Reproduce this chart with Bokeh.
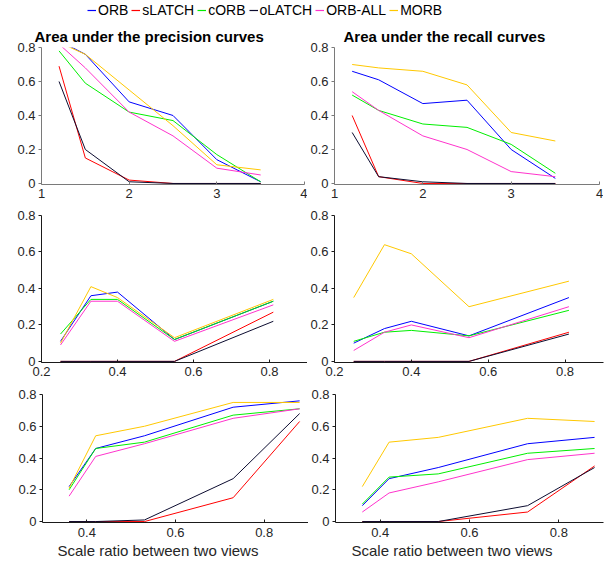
from bokeh.plotting import figure
from bokeh.models import Range1d, FixedTicker, Title, Legend, LegendItem
from bokeh.layouts import column, row
from bokeh.embed import file_html
from bokeh.resources import INLINE

# ---------------- data ----------------
series = ["ORB", "sLATCH", "cORB", "oLATCH", "ORB-ALL", "MORB"]
colors = ["#0000ff", "#ff0000", "#00ee00", "#0c0c30", "#ff33cc", "#ffc800"]

y_ticks = [0, 0.2, 0.4, 0.6, 0.8]
y_tick_labels = ["0", "0.2", "0.4", "0.6", "0.8"]

x_ticks_top = [1, 2, 3, 4]
x_tick_labels_top = ["1", "2", "3", "4"]
x_ticks_mid = [0.2, 0.4, 0.6, 0.8]
x_tick_labels_mid = ["0.2", "0.4", "0.6", "0.8"]
x_ticks_bot = [0.4, 0.6, 0.8]
x_tick_labels_bot = ["0.4", "0.6", "0.8"]

titles = ["Area under the precision curves", "Area under the recall curves"]
x_label = "Scale ratio between two views"

# row 1 (x = scale factor)
x_top = [1.2, 1.5, 2.0, 2.5, 3.0, 3.5]
prec_top_orb = [0.84, 0.76, 0.48, 0.40, 0.14, 0.01]
prec_top_slatch = [0.69, 0.15, 0.02, 0.0, 0.0, 0.0]
prec_top_corb = [0.78, 0.59, 0.42, 0.37, 0.17, 0.01]
prec_top_olatch = [0.60, 0.20, 0.01, 0.0, 0.0, 0.0]
prec_top_orball = [0.82, 0.68, 0.42, 0.28, 0.09, 0.05]
prec_top_morb = [0.83, 0.76, 0.55, 0.34, 0.11, 0.08]

rec_top_orb = [0.66, 0.61, 0.47, 0.49, 0.20, 0.03]
rec_top_slatch = [0.40, 0.04, 0.0, 0.0, 0.0, 0.0]
rec_top_corb = [0.52, 0.43, 0.35, 0.33, 0.23, 0.06]
rec_top_olatch = [0.30, 0.04, 0.01, 0.0, 0.0, 0.0]
rec_top_orball = [0.54, 0.43, 0.28, 0.20, 0.07, 0.04]
rec_top_morb = [0.70, 0.68, 0.66, 0.58, 0.30, 0.25]

# row 2
x_mid = [0.25, 0.33, 0.40, 0.55, 0.81]
prec_mid_orb = [0.11, 0.36, 0.38, 0.12, 0.33]
prec_mid_slatch = [0.0, 0.0, 0.0, 0.0, 0.27]
prec_mid_corb = [0.15, 0.34, 0.34, 0.12, 0.33]
prec_mid_olatch = [0.0, 0.0, 0.0, 0.0, 0.22]
prec_mid_orball = [0.09, 0.33, 0.33, 0.11, 0.31]
prec_mid_morb = [0.10, 0.41, 0.35, 0.13, 0.34]

rec_mid_orb = [0.10, 0.18, 0.22, 0.14, 0.35]
rec_mid_slatch = [0.0, 0.0, 0.0, 0.0, 0.16]
rec_mid_corb = [0.11, 0.16, 0.17, 0.14, 0.28]
rec_mid_olatch = [0.0, 0.0, 0.0, 0.0, 0.15]
rec_mid_orball = [0.06, 0.16, 0.20, 0.13, 0.30]
rec_mid_morb = [0.35, 0.64, 0.59, 0.30, 0.44]

# row 3
x_bot = [0.36, 0.42, 0.53, 0.73, 0.88]
prec_bot_orb = [0.22, 0.46, 0.54, 0.72, 0.76]
prec_bot_slatch = [0.0, 0.0, 0.0, 0.15, 0.63]
prec_bot_corb = [0.20, 0.46, 0.50, 0.67, 0.71]
prec_bot_olatch = [0.0, 0.0, 0.01, 0.27, 0.68]
prec_bot_orball = [0.16, 0.41, 0.49, 0.65, 0.71]
prec_bot_morb = [0.21, 0.54, 0.60, 0.75, 0.75]

rec_bot_orb = [0.10, 0.27, 0.34, 0.49, 0.53]
rec_bot_slatch = [0.0, 0.0, 0.0, 0.06, 0.35]
rec_bot_corb = [0.11, 0.28, 0.30, 0.43, 0.46]
rec_bot_olatch = [0.0, 0.0, 0.0, 0.10, 0.34]
rec_bot_orball = [0.06, 0.18, 0.25, 0.39, 0.43]
rec_bot_morb = [0.22, 0.50, 0.53, 0.65, 0.63]

# ---------------- styling helpers ----------------
FONT = "Liberation Sans"
LABEL_COLOR = "#262626"


def make_panel(xs, ys_list, x_range, x_ticks, x_tick_labels, fw, fh, bl, br, bt, bb,
               axis_color, title=None, title_offset=0, xlabel=None, xlabel_offset=0,
               x_standoff=4):
    p = figure(frame_width=fw, frame_height=fh,
               x_range=Range1d(*x_range), y_range=Range1d(-0.006, 0.8),
               output_backend="svg", toolbar_location=None,
               min_border_left=bl, min_border_right=br,
               min_border_top=bt, min_border_bottom=bb,
               title_location=None)
    p.outline_line_color = None
    p.xgrid.visible = False
    p.ygrid.visible = False
    p.background_fill_color = "white"
    p.border_fill_color = "white"

    ya = p.yaxis[0]
    ya.ticker = FixedTicker(ticks=y_ticks)
    ya.major_label_overrides = dict(zip(y_ticks, y_tick_labels))
    ya.minor_tick_line_color = None
    ya.major_tick_out = 3
    ya.major_tick_in = 0
    ya.major_label_standoff = 3
    ya.axis_line_color = axis_color
    ya.major_tick_line_color = axis_color
    ya.major_label_text_font = FONT
    ya.major_label_text_font_size = "13px"
    ya.major_label_text_color = LABEL_COLOR

    xa = p.xaxis[0]
    xa.ticker = FixedTicker(ticks=x_ticks)
    xa.major_label_overrides = dict(zip(x_ticks, x_tick_labels))
    xa.minor_tick_line_color = None
    xa.major_tick_out = 0
    xa.major_tick_in = 3
    xa.major_label_standoff = x_standoff
    xa.axis_line_color = axis_color
    xa.major_tick_line_color = axis_color
    xa.major_label_text_font = FONT
    xa.major_label_text_font_size = "13px"
    xa.major_label_text_color = LABEL_COLOR

    for ys, c in zip(ys_list, colors):
        p.line(xs, ys, line_color=c, line_width=1)

    if title:
        t = Title(text=title, align="left", offset=title_offset, standoff=6,
                  text_font=FONT, text_font_size="15px", text_font_style="bold",
                  text_color="black")
        p.add_layout(t, "above")
    if xlabel:
        t = Title(text=xlabel, align="left", offset=xlabel_offset, standoff=0,
                  text_font=FONT, text_font_size="15px", text_font_style="normal",
                  text_color=LABEL_COLOR)
        p.add_layout(t, "below")
    return p


GRAY = "#7a7a7a"
BLACK = "#1a1a1a"

p11 = make_panel(x_top, [prec_top_orb, prec_top_slatch, prec_top_corb, prec_top_olatch,
                         prec_top_orball, prec_top_morb],
                 (1, 4), x_ticks_top, x_tick_labels_top, 263, 137, 41, 3, 25, 20,
                 GRAY, title=titles[0], title_offset=-7)
p12 = make_panel(x_top, [rec_top_orb, rec_top_slatch, rec_top_corb, rec_top_olatch,
                         rec_top_orball, rec_top_morb],
                 (1, 4), x_ticks_top, x_tick_labels_top, 265, 137, 26, 4, 25, 20,
                 GRAY, title=titles[1], title_offset=9)

p21 = make_panel(x_mid, [prec_mid_orb, prec_mid_slatch, prec_mid_corb, prec_mid_olatch,
                         prec_mid_orball, prec_mid_morb],
                 (0.2, 0.9), x_ticks_mid, x_tick_labels_mid, 266, 147, 41, 0, 11, 20,
                 BLACK)
p22 = make_panel(x_mid, [rec_mid_orb, rec_mid_slatch, rec_mid_corb, rec_mid_olatch,
                         rec_mid_orball, rec_mid_morb],
                 (0.2, 0.9), x_ticks_mid, x_tick_labels_mid, 269, 147, 26, 2, 11, 20,
                 BLACK)

p31 = make_panel(x_bot, [prec_bot_orb, prec_bot_slatch, prec_bot_corb, prec_bot_olatch,
                         prec_bot_orball, prec_bot_morb],
                 (0.3, 0.9), x_ticks_bot, x_tick_labels_bot, 266, 128, 42, 0, 12, 38,
                 BLACK, xlabel=x_label, xlabel_offset=15, x_standoff=5)
p32 = make_panel(x_bot, [rec_bot_orb, rec_bot_slatch, rec_bot_corb, rec_bot_olatch,
                         rec_bot_orball, rec_bot_morb],
                 (0.3, 0.9), x_ticks_bot, x_tick_labels_bot, 268, 128, 26, 2, 12, 38,
                 BLACK, xlabel=x_label, xlabel_offset=16, x_standoff=5)

# ---------------- legend strip ----------------
lf = figure(width=602, height=22, x_range=Range1d(0, 1), y_range=Range1d(0, 1),
            toolbar_location=None, output_backend="svg", min_border=0,
            x_axis_location=None, y_axis_location=None, title_location=None)
lf.outline_line_color = None
lf.xgrid.visible = False
lf.ygrid.visible = False
items = []
for s, c in zip(series, colors):
    # renderer placed outside the visible range: only its legend glyph is shown
    r = lf.line(x=[0, 1], y=[5, 5], line_color=c, line_width=1.2)
    items.append(LegendItem(label=s, renderers=[r]))
legend = Legend(items=items, orientation="horizontal", location=(87, 4),
                glyph_width=9, glyph_height=14, label_height=14, label_standoff=2,
                spacing=3, padding=0, margin=0, border_line_color=None,
                background_fill_alpha=0, label_text_font=FONT,
                label_text_font_size="14px", label_text_color="black")
lf.add_layout(legend)

layout = column(lf, row(p11, p12), row(p21, p22), row(p31, p32))

open("out.html", "w").write(file_html(layout, INLINE))
